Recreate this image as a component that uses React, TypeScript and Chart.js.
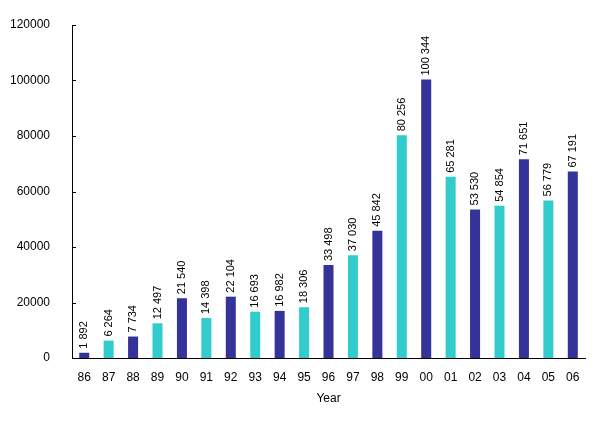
import React, { useEffect, useRef } from 'react';
import { Chart, registerables } from 'chart.js';

Chart.register(...registerables);

const years = ['86', '87', '88', '89', '90', '91', '92', '93', '94', '95', '96', '97', '98', '99', '00', '01', '02', '03', '04', '05', '06'];
const values = [1892, 6264, 7734, 12497, 21540, 14398, 22104, 16693, 16982, 18306, 33498, 37030, 45842, 80256, 100344, 65281, 53530, 54854, 71651, 56779, 67191];

const DARK = '#333399';
const CYAN = '#33CCCC';
const FONT = '"Liberation Sans", Arial, sans-serif';

// 1 892, 100 344 ...
const fmt = (n: number) => n.toString().replace(/\B(?=(\d{3})+(?!\d))/g, ' ');

// value labels, written upwards above each bar
const barLabels = {
    id: 'barLabels',
    afterDatasetsDraw(chart: any) {
        const ctx = chart.ctx;
        const meta = chart.getDatasetMeta(0);
        ctx.save();
        ctx.font = '11px ' + FONT;
        ctx.fillStyle = '#000';
        ctx.textAlign = 'left';
        ctx.textBaseline = 'middle';
        meta.data.forEach((bar: any, i: number) => {
            ctx.save();
            ctx.translate(bar.x, bar.y - 4);
            ctx.rotate(-Math.PI / 2);
            ctx.fillText(fmt(values[i]), 0, 0);
            ctx.restore();
        });
        ctx.restore();
    },
};

// y ticks point into the plot
const innerTicks = {
    id: 'innerTicks',
    afterDraw(chart: any) {
        const ctx = chart.ctx;
        const y = chart.scales.y;
        const left = chart.chartArea.left;
        ctx.save();
        ctx.strokeStyle = '#000';
        ctx.lineWidth = 1;
        y.ticks.forEach((t: any) => {
            const py = Math.round(y.getPixelForValue(t.value)) + 0.5;
            ctx.beginPath();
            ctx.moveTo(left, py);
            ctx.lineTo(left + 4, py);
            ctx.stroke();
        });
        ctx.restore();
    },
};

const App: React.FC = () => {
    const chartRef = useRef<HTMLCanvasElement>(null);
    const chartInstanceRef = useRef<Chart | null>(null);

    useEffect(() => {
        document.body.style.margin = '0';
        if (!chartRef.current) return;
        const ctx = chartRef.current.getContext('2d');
        if (!ctx) return;

        if (chartInstanceRef.current) {
            chartInstanceRef.current.destroy();
        }

        chartInstanceRef.current = new Chart(ctx, {
            type: 'bar',
            data: {
                labels: years,
                datasets: [
                    {
                        data: values,
                        backgroundColor: values.map((_, i) => (i % 2 === 0 ? DARK : CYAN)),
                        barPercentage: 0.82,
                        categoryPercentage: 0.5,
                    },
                ],
            },
            options: {
                responsive: false,
                animation: false,
                layout: { padding: { left: 0, top: 25, right: 15, bottom: 20 } },
                plugins: {
                    legend: { display: false },
                    tooltip: { enabled: false },
                },
                scales: {
                    x: {
                        grid: { display: false },
                        border: { display: true, color: '#000', width: 1 },
                        ticks: { color: '#000', font: { family: FONT, size: 12 }, padding: 4, maxRotation: 0 },
                        title: { display: true, text: 'Year', color: '#000', font: { family: FONT, size: 12 }, padding: 0 },
                        afterFit: (scale: any) => { scale.height = 48; },
                    },
                    y: {
                        min: 0,
                        max: 120000,
                        grid: { display: false },
                        border: { display: true, color: '#000', width: 1 },
                        ticks: {
                            stepSize: 20000,
                            color: '#000',
                            font: { family: FONT, size: 12 },
                            padding: 14,
                            callback: (v: any) => String(v),
                        },
                        afterFit: (scale: any) => { scale.width = 72; },
                    },
                },
            },
            plugins: [barLabels, innerTicks],
        });

        return () => {
            if (chartInstanceRef.current) {
                chartInstanceRef.current.destroy();
                chartInstanceRef.current = null;
            }
        };
    }, []);

    return <canvas ref={chartRef} width={600} height={426} />;
};

export default App;
